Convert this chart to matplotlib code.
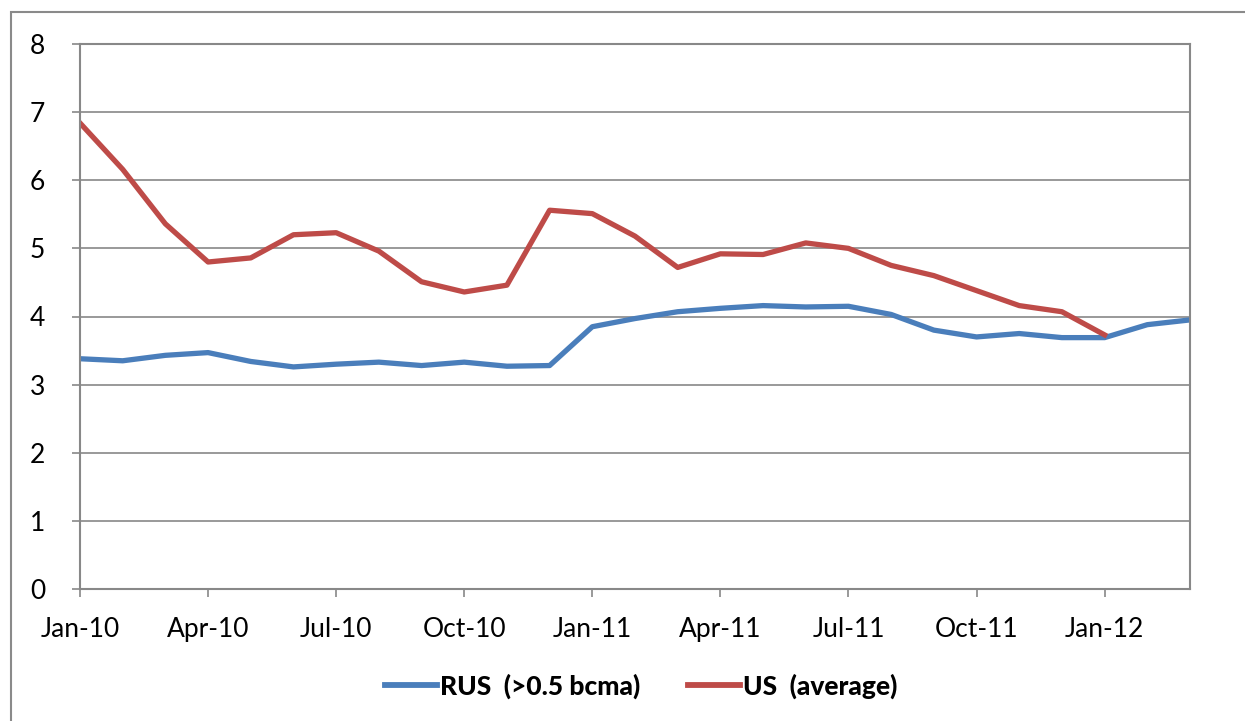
import matplotlib as mpl
import matplotlib.pyplot as plt
from matplotlib.patches import Rectangle
import numpy as np

# monthly values, Jan-10 .. Mar-12
months = ['Jan-10', 'Feb-10', 'Mar-10', 'Apr-10', 'May-10', 'Jun-10', 'Jul-10', 'Aug-10', 'Sep-10',
          'Oct-10', 'Nov-10', 'Dec-10', 'Jan-11', 'Feb-11', 'Mar-11', 'Apr-11', 'May-11', 'Jun-11',
          'Jul-11', 'Aug-11', 'Sep-11', 'Oct-11', 'Nov-11', 'Dec-11', 'Jan-12', 'Feb-12', 'Mar-12']
rus = [3.38, 3.35, 3.43, 3.47, 3.34, 3.26, 3.30, 3.33, 3.28, 3.33, 3.27, 3.28, 3.85, 3.97,
       4.07, 4.12, 4.16, 4.14, 4.15, 4.03, 3.80, 3.70, 3.75, 3.69, 3.69, 3.88, 3.95]
us = [6.84, 6.16, 5.36, 4.80, 4.86, 5.20, 5.23, 4.96, 4.51, 4.36, 4.46, 5.56, 5.51, 5.18,
      4.72, 4.92, 4.91, 5.08, 5.00, 4.75, 4.60, 4.38, 4.16, 4.07, 3.73]

mpl.rcParams['font.family'] = ['Lato', 'DejaVu Sans']

fig = plt.figure(figsize=(12.45, 7.21), dpi=100)
ax = fig.add_axes([80 / 1245, 1 - 589 / 721, 1110 / 1245, 545 / 721])

x_rus = np.arange(len(rus))
x_us = np.arange(len(us))
ax.plot(x_rus, rus, color='#4A7EBB', lw=3.8, label='RUS  (>0.5 bcma)')
ax.plot(x_us, us, color='#BE4B48', lw=3.8, label='US  (average)')

ax.set_xlim(0, len(months) - 1)
ax.set_ylim(0, 8)
ax.set_yticks(range(0, 9))
ax.set_xticks(range(0, len(months), 3))
ax.set_xticklabels(months[::3])

grid_c = '#888888'
ax.grid(axis='y', color=grid_c, lw=1.2)
ax.set_axisbelow(True)
for s in ax.spines.values():
    s.set_color(grid_c)
    s.set_linewidth(1.5)
ax.tick_params(axis='both', colors=grid_c, labelcolor='black', labelsize=19,
               length=6, width=1.2)
ax.tick_params(axis='y', pad=19)
ax.tick_params(axis='x', pad=14)

# outer chart frame
fig.patches.append(Rectangle((11 / 1245, -0.1), 1.2, 1 - 12 / 721 + 0.1,
                             transform=fig.transFigure, fill=False,
                             edgecolor='#8a8a8a', lw=1.5))

leg = fig.legend(loc='center', bbox_to_anchor=(641 / 1245, 1 - 686 / 721), ncol=2,
                 frameon=False, handlelength=2.0, handletextpad=0.1, columnspacing=1.8,
                 prop={'size': 19, 'weight': 'black'})
for h in leg.get_lines():
    h.set_linewidth(4.2)

fig.savefig('out.png', dpi=100)
